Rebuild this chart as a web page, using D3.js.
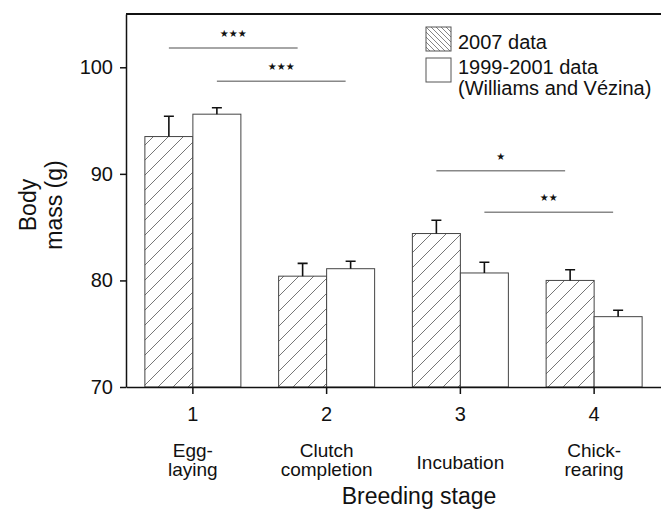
<!DOCTYPE html>
<html>
<head>
<meta charset="utf-8">
<script src="https://cdn.jsdelivr.net/npm/d3@7"></script>
<style>
    body { margin: 0; background: #fff; }
    text { font-family: "Liberation Sans", Arial, sans-serif; fill: #111; }
</style>
</head>
<body>
<div id="chart"></div>
<script>
// Breeding stages and their labels
const stages = ["1", "2", "3", "4"]
const stageNames = [["Egg-", "laying"], ["Clutch", "completion"], ["Incubation"], ["Chick-", "rearing"]]

// Body mass (g), mean and upper error
const mass2007 = [93.5, 80.4, 84.4, 80.0]
const err2007 = [1.9, 1.2, 1.25, 1.0]
const massOld = [95.6, 81.1, 80.7, 76.6]
const errOld = [0.6, 0.7, 1.0, 0.6]

const seriesNames = ["2007 data", "1999-2001 data"]
const yTicks = [70, 80, 90, 100]

// Significance lines: from stage, series (0 = 2007, 1 = old), level, stars
const sigFrom = ["1", "1", "3", "3"]
const sigSeries = [0, 1, 0, 1]
const sigLevel = [101.8, 98.7, 90.3, 86.4]
const sigStars = ["★★★", "★★★", "★", "★★"]

const svgWidth = 661,
    svgHeight = 510

const margin = { top: 14, right: 0, bottom: 123, left: 126 }
const width = svgWidth - margin.left - margin.right
const height = svgHeight - margin.top - margin.bottom

const svg = d3.select("#chart")
    .append("svg")
    .attr("width", svgWidth)
    .attr("height", svgHeight)

// hatch patterns
const defs = svg.append("defs")
defs.append("pattern")
    .attr("id", "hatchBar")
    .attr("patternUnits", "userSpaceOnUse")
    .attr("width", 15)
    .attr("height", 15)
    .append("path")
    .attr("d", "M0,15 L15,0 M-2,2 L2,-2 M13,17 L17,13")
    .attr("stroke", "#666")
    .attr("stroke-width", 0.9)
defs.append("pattern")
    .attr("id", "hatchLegend")
    .attr("patternUnits", "userSpaceOnUse")
    .attr("width", 5)
    .attr("height", 5)
    .append("path")
    .attr("d", "M0,0 L5,5 M-1,4 L1,6 M4,-1 L6,1")
    .attr("stroke", "#666")
    .attr("stroke-width", 0.8)

const chartGroup = svg.append("g")
    .attr("transform", `translate(${margin.left}, ${margin.top})`)

const data = stages.map((s, i) => ({
    stage: s,
    names: stageNames[i],
    vals: [mass2007[i], massOld[i]],
    errs: [err2007[i], errOld[i]]
}))

// scales
const xScale = d3.scaleBand()
    .domain(stages)
    .range([0, width])
    .padding(0)

const yScale = d3.scaleLinear()
    .domain([70, 105])
    .range([height, 0])

const barW = 48
const center = s => xScale(s) + xScale.bandwidth() / 2
const barX = (s, k) => center(s) + (k === 0 ? -barW : 0)

// bars
const groups = chartGroup.selectAll(".stage")
    .data(data)
    .enter()
    .append("g")
    .attr("class", "stage")

groups.selectAll("rect")
    .data(d => d.vals.map((v, k) => ({ stage: d.stage, v: v, e: d.errs[k], k: k })))
    .enter()
    .append("rect")
    .attr("x", d => barX(d.stage, d.k))
    .attr("y", d => yScale(d.v))
    .attr("width", barW)
    .attr("height", d => height - yScale(d.v))
    .attr("fill", d => d.k === 0 ? "url(#hatchBar)" : "#fff")
    .attr("stroke", "#444")
    .attr("stroke-width", 1)

// error bars (upper only)
groups.selectAll(".err")
    .data(d => d.vals.map((v, k) => ({ stage: d.stage, v: v, e: d.errs[k], k: k })))
    .enter()
    .append("path")
    .attr("class", "err")
    .attr("d", d => {
        const cx = barX(d.stage, d.k) + barW / 2
        const y0 = yScale(d.v), y1 = yScale(d.v + d.e)
        return `M${cx},${y0} V${y1} M${cx - 5},${y1} H${cx + 5}`
    })
    .attr("stroke", "#111")
    .attr("stroke-width", 1.6)
    .attr("fill", "none")

// axes
const xAxis = d3.axisBottom(xScale).tickSize(7).tickSizeOuter(0).tickPadding(13)
const yAxis = d3.axisLeft(yScale).tickValues(yTicks).tickSize(6).tickSizeOuter(0).tickPadding(7)

const gx = chartGroup.append("g")
    .attr("transform", `translate(0, ${height})`)
    .call(xAxis)
gx.selectAll("text").attr("font-size", 20).style("font-family", "Liberation Sans, Arial, sans-serif")
gx.selectAll("line, path").attr("stroke", "#111").attr("stroke-width", 1.5)

const gy = chartGroup.append("g")
    .call(yAxis)
gy.selectAll("text").attr("font-size", 20).style("font-family", "Liberation Sans, Arial, sans-serif")
gy.selectAll("line, path").attr("stroke", "#111").attr("stroke-width", 1.5)

// top frame line
chartGroup.append("line")
    .attr("x1", 0)
    .attr("x2", width)
    .attr("y1", 0)
    .attr("y2", 0)
    .attr("stroke", "#111")
    .attr("stroke-width", 2)

// stage names under ticks
const nameGroup = chartGroup.selectAll(".stageName")
    .data(data)
    .enter()
    .append("text")
    .attr("class", "stageName")
    .attr("text-anchor", "middle")
    .attr("font-size", 19)
    .attr("x", d => center(d.stage))
    .attr("y", d => d.names.length === 1 ? height + 82 : height + 70)
nameGroup.selectAll("tspan")
    .data(d => d.names.map(n => ({ n: n, x: center(d.stage) })))
    .enter()
    .append("tspan")
    .attr("x", d => d.x)
    .attr("dy", (d, i) => i === 0 ? 0 : 19)
    .text(d => d.n)

// significance lines
sigFrom.forEach((s, i) => {
    const k = sigSeries[i]
    const next = stages[stages.indexOf(s) + 1]
    const x1 = barX(s, k) + barW / 2
    const x2 = barX(next, k) + barW / 2 - 5
    const y = yScale(sigLevel[i])
    chartGroup.append("line")
        .attr("x1", x1)
        .attr("x2", x2)
        .attr("y1", y)
        .attr("y2", y)
        .attr("stroke", "#888")
        .attr("stroke-width", 1.5)
    chartGroup.append("text")
        .attr("x", (x1 + x2) / 2)
        .attr("y", y - 11)
        .attr("text-anchor", "middle")
        .attr("font-size", 10)
        .style("font-family", "DejaVu Sans, sans-serif")
        .text(sigStars[i])
})

// legend
const legend = svg.append("g")
    .attr("transform", "translate(426, 27)")
legend.append("rect")
    .attr("width", 25)
    .attr("height", 24)
    .attr("fill", "url(#hatchLegend)")
    .attr("stroke", "#555")
legend.append("rect")
    .attr("y", 31)
    .attr("width", 25)
    .attr("height", 24)
    .attr("fill", "#fff")
    .attr("stroke", "#555")
legend.append("text")
    .attr("x", 32)
    .attr("y", 22)
    .attr("font-size", 20)
    .text(seriesNames[0])
legend.append("text")
    .attr("x", 32)
    .attr("y", 47)
    .attr("font-size", 20)
    .text(seriesNames[1])
legend.append("text")
    .attr("x", 32)
    .attr("y", 68)
    .attr("font-size", 20)
    .text("(Williams and Vézina)")

// axis titles
svg.append("text")
    .attr("x", 419)
    .attr("y", 504)
    .attr("text-anchor", "middle")
    .attr("font-size", 23)
    .text("Breeding stage")

const yTitle = svg.append("text")
    .attr("transform", "translate(36, 205) rotate(-90)")
    .attr("text-anchor", "middle")
    .attr("font-size", 23)
yTitle.append("tspan").attr("x", 0).attr("y", 0).text("Body")
yTitle.append("tspan").attr("x", 0).attr("y", 26).text("mass (g)")
</script>
</body>
</html>
